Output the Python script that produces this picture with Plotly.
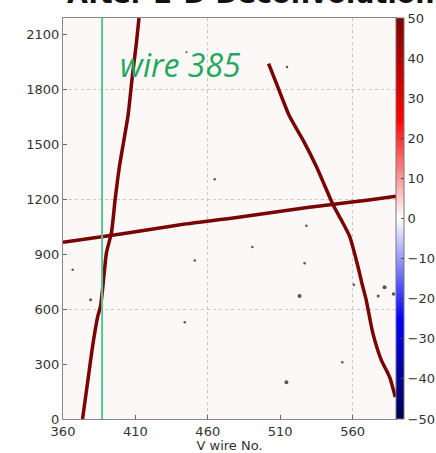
import plotly.graph_objects as go

# ---- data ----
track_steep_x = [373.5, 377.0, 380.5, 384.0, 386.0, 388.5, 390.0, 393.5, 396.0, 399.0, 402.0, 405.0, 408.0, 410.5, 412.5]
track_steep_y = [0, 200, 400, 560, 620, 800, 907, 1020, 1197, 1380, 1520, 1662, 1880, 2040, 2190]

track_flat_x = [360, 400, 440, 480, 530, 546, 570, 590]
track_flat_y = [965, 1010, 1060, 1100, 1157, 1172, 1195, 1217]

track_curve_x = [502, 509, 516.5, 526, 535, 541, 546.5, 552, 558, 563.7, 566.5, 569.4, 574, 579.8, 585.5, 589.5]
track_curve_y = [1941, 1800, 1653, 1520, 1379, 1270, 1170, 1090, 997, 833, 740, 651, 469, 323, 231, 120]

hit_x = [366.7, 379.1, 464.8, 490.8, 451.0, 528.1, 526.9, 523.4, 444.1, 514.3, 514.7, 560.9, 582.1, 577.7, 588.3, 552.9, 445.3]
hit_y = [815, 651, 1310, 939, 866, 1055, 851, 672, 529, 201, 1923, 733, 720, 672, 683, 310, 2003]
hit_size = [2.5, 3, 2.5, 2.5, 2.5, 2.5, 2.5, 4, 2.5, 4, 2.5, 2.5, 4, 3, 3.5, 2.5, 2]

wire_x = 387
wire_label = "wire 385"

x_ticks = [360, 410, 460, 510, 560]
y_ticks = [0, 300, 600, 900, 1200, 1500, 1800, 2100]
x_grid = [460, 560]
y_grid = [600, 1200, 1800]
cbar_ticks = [-50, -40, -30, -20, -10, 0, 10, 20, 30, 40, 50]

seismic = [[0.0, "rgb(0,0,76)"], [0.25, "rgb(0,0,255)"], [0.5, "rgb(255,255,255)"],
           [0.75, "rgb(255,0,0)"], [1.0, "rgb(128,0,0)"]]

TRACK = "#7a0303"
FONT = "DejaVu Sans"

fig = go.Figure()

for tx, ty in [(track_steep_x, track_steep_y), (track_flat_x, track_flat_y), (track_curve_x, track_curve_y)]:
    fig.add_trace(go.Scatter(x=tx, y=ty, mode="lines",
                             line=dict(color=TRACK, width=3.5, shape="spline", smoothing=0.6),
                             hoverinfo="skip", showlegend=False))

fig.add_trace(go.Scatter(x=hit_x, y=hit_y, mode="markers",
                         marker=dict(color="#2a0808", size=hit_size, symbol="circle", line=dict(width=0)),
                         showlegend=False))

# colour bar carrier
fig.add_trace(go.Scatter(x=[None], y=[None], mode="markers", showlegend=False,
                         marker=dict(color=[0], cmin=-50, cmax=50, colorscale=seismic, showscale=True,
                                     colorbar=dict(x=1.0, xanchor="left", xpad=0, ypad=0,
                                                   y=0.5, yanchor="middle", len=1, lenmode="fraction",
                                                   thickness=8, outlinewidth=1, outlinecolor="#777",
                                                   tickvals=cbar_ticks, ticks="inside", ticklen=3,
                                                   tickfont=dict(family=FONT, size=13, color="#333")))))

# wire line
fig.add_trace(go.Scatter(x=[wire_x, wire_x], y=[0, 2190], mode="lines",
                         line=dict(color="#55c596", width=2), hoverinfo="skip", showlegend=False))

fig.add_annotation(x=0.165, y=0.885, xref="paper", yref="paper", text=wire_label, showarrow=False,
                   xanchor="left", yanchor="middle",
                   font=dict(family="Open Sans", size=32, color="#1fa85e", style="italic"))

fig.add_annotation(x=246 / 436, y=1.0, xref="paper", yref="paper",
                   text="<b>After 2-D Deconvolution</b>", showarrow=False,
                   xanchor="center", yanchor="bottom", yshift=7,
                   font=dict(family=FONT, size=27, color="#111"))

axis_common = dict(showline=True, linecolor="#888", linewidth=1, mirror=True,
                   ticks="inside", ticklen=4, tickcolor="#666", showgrid=False, zeroline=False,
                   tickfont=dict(family=FONT, size=13, color="#333"))

fig.update_xaxes(range=[360, 590], tickvals=x_ticks, **axis_common,
                 minor=dict(tickvals=x_grid, showgrid=True, gridcolor="#c8c8c8", griddash="dot",
                            gridwidth=1, ticks=""),
                 title=dict(text="V wire No.", font=dict(family=FONT, size=13, color="#333"), standoff=2))
fig.update_yaxes(range=[0, 2190], tickvals=y_ticks, **axis_common,
                 minor=dict(tickvals=y_grid, showgrid=True, gridcolor="#c8c8c8", griddash="dot",
                            gridwidth=1, ticks=""))

fig.update_layout(width=436, height=453, margin=dict(l=63, r=40, t=18, b=34, autoexpand=False),
                  paper_bgcolor="white", plot_bgcolor="#fdf8f8", showlegend=False)

fig.write_html("out.html", config={"displayModeBar": False},
               post_script="document.body.style.margin='0';")
